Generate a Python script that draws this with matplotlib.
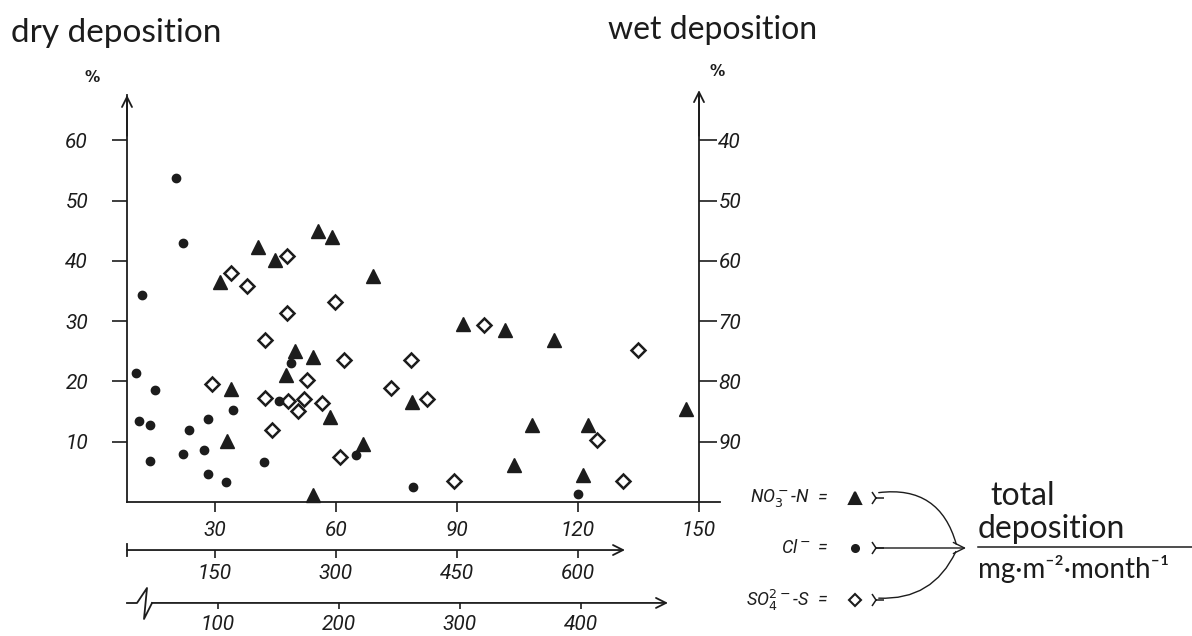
import matplotlib
matplotlib.use("Agg")
import matplotlib.pyplot as plt
from matplotlib import font_manager
from matplotlib.patches import FancyArrowPatch
from matplotlib.lines import Line2D

# x = total deposition (mg m-2 month-1, top scale), y = dry deposition (%)
no3_x = [31.2, 40.6, 44.9, 55.6, 58.9, 69.3, 34.0, 33.1, 49.8, 47.5, 54.2, 58.5,
         54.4, 66.6, 78.8, 91.4, 101.9, 114.1, 108.5, 122.6, 104.2, 121.3, 146.7]
no3_y = [36.5, 42.3, 40.2, 44.9, 43.9, 37.4, 18.7, 10.1, 25.0, 21.1, 24.1, 14.1,
         1.2, 9.6, 16.6, 29.6, 28.5, 26.8, 12.8, 12.8, 6.2, 4.5, 15.5]

cl_x = [20.3, 22.0, 12.0, 10.4, 15.1, 11.2, 13.9, 13.9, 23.5, 22.0, 28.3, 27.3,
        28.3, 32.7, 34.5, 42.2, 46.0, 48.8, 64.9, 79.0, 120.1]
cl_y = [53.8, 43.0, 34.3, 21.4, 18.5, 13.5, 12.8, 6.8, 11.9, 7.9, 13.7, 8.7,
        4.6, 3.3, 15.3, 6.7, 16.7, 23.1, 7.8, 2.5, 1.3]

so4_x = [34.0, 38.0, 47.9, 59.8, 47.9, 29.2, 42.4, 42.4, 44.1, 48.2, 52.7, 52.2,
         50.5, 56.6, 62.0, 61.0, 78.5, 73.6, 82.5, 96.7, 135.0, 124.8, 131.1, 89.3]
so4_y = [38.0, 35.9, 40.8, 33.1, 31.3, 19.5, 26.9, 17.2, 11.9, 16.7, 20.3, 17.0,
         15.1, 16.4, 23.5, 7.4, 23.5, 18.9, 17.1, 29.4, 25.2, 10.3, 3.4, 3.4]

dry_ticks = [10, 20, 30, 40, 50, 60]
wet_ticks = [40, 50, 60, 70, 80, 90]
x_ticks = [30, 60, 90, 120, 150]
x2_ticks = [150, 300, 450, 600]
x3_ticks = [100, 200, 300, 400]


def pick_font(names):
    have = {f.name for f in font_manager.fontManager.ttflist}
    for n in names:
        if n in have:
            return n
    return "DejaVu Sans"


num_font = pick_font(["Liberation Sans Narrow", "Roboto"])
head_font = [pick_font(["Lato", "Roboto"]), "DejaVu Sans"]

ink = "#1c1c1c"
W, H = 1192, 636


def fx(px):
    return px / W


def fy(py):
    return 1 - py / H


fig = plt.figure(figsize=(11.92, 6.36), dpi=100)
ax = fig.add_axes([fx(127), fy(502), (699 - 127) / W, (502 - 95) / H])
ax.set_xlim(8.2, 150)
ax.set_ylim(0, 67.5)

for s in ["top", "right", "bottom"]:
    ax.spines[s].set_visible(False)
ax.spines["left"].set_linewidth(1.3)
ax.spines["left"].set_color(ink)
ax.axhline(0, xmin=0, xmax=1.037, color=ink, lw=1.3, clip_on=False)

num_kw = dict(family=num_font, style="italic", size=15, color=ink)

ax.set_yticks(dry_ticks)
ax.set_yticklabels([str(t) for t in dry_ticks], **num_kw)
ax.tick_params(axis="y", direction="out", length=11, width=1.2, pad=17, colors=ink)
ax.set_xticks(x_ticks)
ax.set_xticklabels([str(t) for t in x_ticks], **num_kw)
ax.tick_params(axis="x", direction="out", length=7, width=1.2, pad=7, colors=ink)

# arrow heads on the two vertical axes
ax.annotate("", xy=(0, 1.0), xytext=(0, 0.9), xycoords="axes fraction",
            arrowprops=dict(arrowstyle="->", lw=1.3, color=ink, mutation_scale=18,
                            shrinkA=0, shrinkB=0))
ax.annotate("", xy=(1, 1.012), xytext=(1, 0.9), xycoords="axes fraction",
            arrowprops=dict(arrowstyle="->", lw=1.3, color=ink, mutation_scale=18,
                            shrinkA=0, shrinkB=0))

# right axis: wet deposition = 100 - dry
wet = ax.secondary_yaxis("right", functions=(lambda y: 100 - y, lambda w: 100 - w))
wet.set_yticks(wet_ticks)
wet.set_yticklabels([str(t) for t in wet_ticks], **num_kw)
wet.tick_params(direction="out", length=13, width=1.2, pad=1, colors=ink)
wet.spines["right"].set_linewidth(1.3)
wet.spines["right"].set_color(ink)

# second bottom scale
x2 = ax.secondary_xaxis(-0.118, functions=(lambda x: 5 * x, lambda v: v / 5))
x2.set_xticks(x2_ticks)
x2.set_xticklabels([str(t) for t in x2_ticks], **num_kw)
x2.tick_params(direction="out", length=6, width=1.2, pad=4, colors=ink)
x2.spines["bottom"].set_visible(False)
ax.annotate("", xy=((625 - 127) / 572, -0.118), xytext=(0, -0.118),
            xycoords="axes fraction",
            arrowprops=dict(arrowstyle="->", lw=1.3, color=ink, mutation_scale=18,
                            shrinkA=0, shrinkB=0))
ax.plot([0, 0], [-0.104, -0.132], transform=ax.transAxes, color=ink, lw=1.3,
        clip_on=False)

# third bottom scale (broken at the start)
x3 = ax.secondary_xaxis(-0.248, functions=(lambda x: (x - 0.7) * 10 / 3,
                                           lambda v: v * 0.3 + 0.7))
x3.set_xticks(x3_ticks)
x3.set_xticklabels([str(t) for t in x3_ticks], **num_kw)
x3.tick_params(direction="out", length=4, width=1.2, pad=5, colors=ink)
x3.spines["bottom"].set_visible(False)
ax.annotate("", xy=((668 - 127) / 572, -0.248), xytext=((152 - 127) / 572, -0.248),
            xycoords="axes fraction",
            arrowprops=dict(arrowstyle="->", lw=1.3, color=ink, mutation_scale=18,
                            shrinkA=0, shrinkB=0))
brk_x = [0, 10, 20, 17, 25]
brk_y = [603, 603, 588, 619, 603]
ax.plot([v / 572 for v in brk_x], [(502 - v) / 407 for v in brk_y],
        transform=ax.transAxes, color=ink, lw=1.3, clip_on=False)

# data
ax.plot(so4_x, so4_y, ls="none", marker="D", ms=7.5, mfc="white", mec=ink, mew=1.8,
        clip_on=False, zorder=3)
ax.plot(no3_x, no3_y, ls="none", marker="^", ms=10, color=ink, clip_on=False, zorder=4)
ax.plot(cl_x, cl_y, ls="none", marker="o", ms=6, color=ink, clip_on=False, zorder=4)

# headings
head_kw = dict(family=head_font, color=ink, va="center")
fig.text(fx(11), fy(33), "dry deposition", ha="left", size=24, **head_kw)
fig.text(fx(608), fy(30), "wet deposition", ha="left", size=23, **head_kw)
fig.text(fx(92), fy(78), "%", ha="center", va="center", size=11, weight="bold", color=ink)
fig.text(fx(717), fy(72), "%", ha="center", va="center", size=11, weight="bold", color=ink)

# key on the lower right
key_kw = dict(family=num_font, style="italic", size=13, color=ink, va="center")
key_rows = [(498, r"NO$_3^-$-N", "^", 9, ink), (548, r"Cl$^-$", "o", 5, ink),
            (600, r"SO$_4^{2-}$-S", "D", 6.5, "white")]
for py, lab, mk, ms, fc in key_rows:
    fig.text(fx(810), fy(py), lab, ha="right", **key_kw)
    fig.text(fx(822), fy(py), "=", ha="center", **key_kw)
    fig.add_artist(Line2D([fx(855)], [fy(py)], marker=mk, ms=ms, mfc=fc, mec=ink,
                          mew=1.5, ls="none", transform=fig.transFigure))
    fig.add_artist(Line2D([fx(876)], [fy(py)], marker="4", ms=11, mew=1.1,
                          color=ink, ls="none", transform=fig.transFigure))

tip = (fx(966), fy(548))
fig.add_artist(FancyArrowPatch((fx(876), fy(493)), (fx(957), fy(547)),
                               transform=fig.transFigure, arrowstyle="-",
                               connectionstyle="arc3,rad=-0.45", lw=1.0, color=ink))
fig.add_artist(FancyArrowPatch((fx(876), fy(598)), (fx(957), fy(549)),
                               transform=fig.transFigure, arrowstyle="-",
                               connectionstyle="arc3,rad=0.35", lw=1.0, color=ink))
fig.add_artist(FancyArrowPatch((fx(876), fy(548)), tip,
                               transform=fig.transFigure, arrowstyle="->",
                               mutation_scale=20, lw=1.0, color=ink,
                               shrinkA=0, shrinkB=0))

frac_kw = dict(family=head_font, color=ink, va="center", ha="left")
fig.text(fx(990), fy(496), "total", size=23, **frac_kw)
fig.text(fx(978), fy(529), "deposition", size=23, **frac_kw)
fig.add_artist(Line2D([fx(978), 1.0], [fy(547), fy(547)], lw=1.1, color=ink,
                      transform=fig.transFigure))
fig.text(fx(978), fy(569), "mg·m\u207b\u00b2·month\u207b\u00b9", size=20, **frac_kw)

fig.savefig("out.png", dpi=100, facecolor="white")
